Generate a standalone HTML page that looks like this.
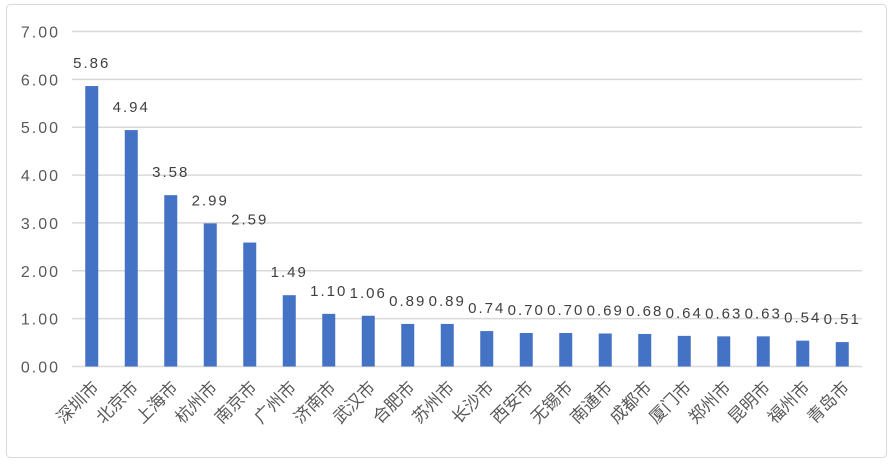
<!DOCTYPE html>
<html><head><meta charset="utf-8"><style>
html,body{margin:0;padding:0;background:#fff;width:894px;height:466px;overflow:hidden}
svg text{font-family:"Liberation Sans","Noto Sans CJK SC",sans-serif}
</style></head><body>
<svg id="chart" width="894" height="466" xmlns="http://www.w3.org/2000/svg">
<rect x="6.5" y="4.5" width="880" height="453" rx="4" fill="#fff" stroke="#d9d9d9"/>
<g id="grid"></g><g id="bars"></g><g id="labels"></g>
</svg>
<script>
const categories=["深圳市","北京市","上海市","杭州市","南京市","广州市","济南市","武汉市","合肥市","苏州市","长沙市","西安市","无锡市","南通市","成都市","厦门市","郑州市","昆明市","福州市","青岛市"];
const values=[5.86,4.94,3.58,2.99,2.59,1.49,1.10,1.06,0.89,0.89,0.74,0.70,0.70,0.69,0.68,0.64,0.63,0.63,0.54,0.51];
const yTicks=[0,1,2,3,4,5,6,7];
const NS="http://www.w3.org/2000/svg";
const x0=72,x1=862,yZero=366.5,yTop=31.5,yMax=7;
const y=v=>yZero-(v/yMax)*(yZero-yTop);
const band=(x1-x0)/categories.length;
const xc=i=>x0+band*(i+0.5);
function mk(t,a,p){const e=document.createElementNS(NS,t);for(const k in a)e.setAttribute(k,a[k]);p.appendChild(e);return e;}
const grid=document.getElementById('grid'),bars=document.getElementById('bars'),labels=document.getElementById('labels');
yTicks.forEach(t=>{
 const l=mk('line',{x1:x0,x2:x1,y1:y(t),y2:y(t),stroke:'#d9d9d9','stroke-width':1.5},grid);
 
 
 const tx=mk('text',{x:60,y:y(t)+6,'text-anchor':'end','font-size':16,fill:'#595959','letter-spacing':'2'},grid);
 tx.textContent=t.toFixed(2);
 
 
});
values.forEach((v,i)=>{
 const r=mk('rect',{x:xc(i)-6.5,y:y(v),width:13,height:yZero-y(v),fill:'#4472c4'},bars);
 
 
 const t=mk('text',{x:xc(i),y:y(v)-18,'text-anchor':'middle','font-size':15,fill:'#404040','letter-spacing':'2'},labels);
 t.textContent=v.toFixed(2);
 
 
 const c=mk('text',{x:0,y:0,'text-anchor':'end','font-size':17,fill:'#595959',transform:`translate(${xc(i)+8},${yZero+22}) rotate(-45)`},labels);
 c.textContent=categories[i];
 
 
});
</script>
</body></html>
